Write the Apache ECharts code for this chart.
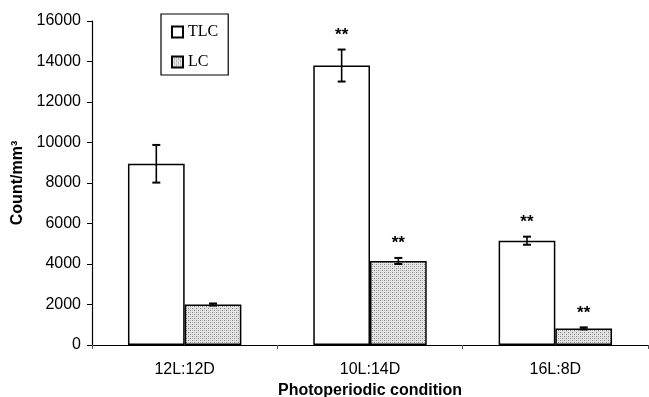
<!DOCTYPE html>
<html>
<head>
<meta charset="utf-8">
<script src="https://cdn.jsdelivr.net/npm/echarts@6/dist/echarts.min.js"></script>
<style>html,body{margin:0;padding:0;background:#fff;}#c{width:649px;height:397px;}</style>
</head>
<body>
<div id="c"></div>
<script>
// ---- data ----
var categories = ['12L:12D', '10L:14D', '16L:8D'];
var tlcValues = [8950, 13800, 5150];
var tlcErrors = [930, 790, 200];
var lcValues = [2000, 4150, 820];
var lcErrors = [50, 150, 50];
var tlcSig = ['', '**', '**'];
var lcSig = ['', '**', '**'];
var yTicks = { min: 0, max: 16000, interval: 2000 };

// stipple pattern for LC
var pc = document.createElement('canvas');
pc.width = 4; pc.height = 4;
var pctx = pc.getContext('2d');
pctx.fillStyle = '#e6e6e6'; pctx.fillRect(0, 0, 4, 4);
pctx.fillStyle = '#808080';
pctx.fillRect(0, 0, 1, 1);
pctx.fillRect(2, 2, 1, 1);
pctx.fillStyle = '#b4b4b4';
pctx.fillRect(2, 0, 1, 1);
pctx.fillRect(0, 2, 1, 1);
var lcPattern = { image: pc, repeat: 'repeat' };

var BAR_FRAC = 0.306;
var sigText = [tlcSig, lcSig];

function errData(vals, errs) {
  return vals.map(function (v, i) { return [i, v - errs[i], v + errs[i]]; });
}

function makeErr(side) {
  return function (params, api) {
    var idx = api.value(0);
    var lo = api.coord([idx, api.value(1)]);
    var hi = api.coord([idx, api.value(2)]);
    var cw = api.size([1, 0])[0];
    var x = lo[0] + side * cw * BAR_FRAC / 2;
    var cap = 4;
    var children = [
      { type: 'line', shape: { x1: x, y1: hi[1], x2: x, y2: lo[1] }, style: { stroke: '#000', lineWidth: 1.6 } },
      { type: 'line', shape: { x1: x - cap, y1: hi[1], x2: x + cap, y2: hi[1] }, style: { stroke: '#000', lineWidth: 2 } },
      { type: 'line', shape: { x1: x - cap, y1: lo[1], x2: x + cap, y2: lo[1] }, style: { stroke: '#000', lineWidth: 2 } }
    ];
    var s = sigText[side < 0 ? 0 : 1][params.dataIndex];
    if (s) {
      children.push({ type: 'text', style: { text: s, x: x, y: hi[1] - 6, align: 'center', verticalAlign: 'bottom', font: 'bold 17px "Liberation Sans", Arial', fill: '#000' } });
    }
    return { type: 'group', children: children };
  };
}

var chart = echarts.init(document.getElementById('c'), null, { renderer: 'canvas' });
chart.setOption({
  animation: false,
  backgroundColor: '#fff',
  grid: { left: 92, right: 1, top: 21, bottom: 52, containLabel: false, outerBoundsMode: 'none' },
  legend: {
    orient: 'vertical',
    left: 161, top: 14,
    padding: [10, 10, 5, 10],
    itemGap: 14,
    itemWidth: 11, itemHeight: 11,
    borderColor: '#000', borderWidth: 1.2,
    icon: 'rect',
    textStyle: { fontFamily: '"Liberation Serif", "Times New Roman", serif', fontSize: 16, color: '#000' },
    data: ['TLC', 'LC']
  },
  xAxis: {
    type: 'category',
    data: categories,
    name: 'Photoperiodic condition',
    nameLocation: 'middle',
    nameGap: 33,
    nameTextStyle: { fontFamily: '"Liberation Sans", Arial', fontWeight: 'bold', fontSize: 16, color: '#000' },
    axisLine: { lineStyle: { color: '#000', width: 1.2 } },
    axisTick: { show: true, length: 4, lineStyle: { color: '#555' } },
    axisLabel: { fontFamily: '"Liberation Sans", Arial', fontSize: 16, color: '#000', margin: 17 },
    splitLine: { show: false }
  },
  yAxis: {
    type: 'value',
    min: yTicks.min, max: yTicks.max, interval: yTicks.interval,
    name: 'Count/mm³',
    nameLocation: 'middle',
    nameGap: 56,
    nameTextStyle: { fontFamily: '"Liberation Sans", Arial', fontWeight: 'bold', fontSize: 16, color: '#000' },
    axisLine: { show: true, lineStyle: { color: '#000', width: 1.2 } },
    axisTick: { show: true, length: 5, lineStyle: { color: '#000' } },
    axisLabel: { fontFamily: '"Liberation Sans", Arial', fontSize: 16, color: '#000', margin: 11,
      formatter: function (v) { return String(v); } },
    splitLine: { show: false }
  },
  series: [
    {
      name: 'TLC', type: 'bar', data: tlcValues,
      barWidth: (BAR_FRAC * 100) + '%', barGap: '0%',
      itemStyle: { color: '#fff', borderColor: '#000', borderWidth: 1.5 }
    },
    {
      name: 'LC', type: 'bar', data: lcValues,
      barWidth: (BAR_FRAC * 100) + '%', barGap: '0%',
      itemStyle: { color: lcPattern, borderColor: '#000', borderWidth: 1.5 }
    },
    {
      type: 'custom', name: 'errTLC', renderItem: makeErr(-1),
      data: errData(tlcValues, tlcErrors), z: 10,
      encode: { x: 0, y: [1, 2] }
    },
    {
      type: 'custom', name: 'errLC', renderItem: makeErr(1),
      data: errData(lcValues, lcErrors), z: 10,
      encode: { x: 0, y: [1, 2] }
    }
  ]
});
</script>
</body>
</html>
